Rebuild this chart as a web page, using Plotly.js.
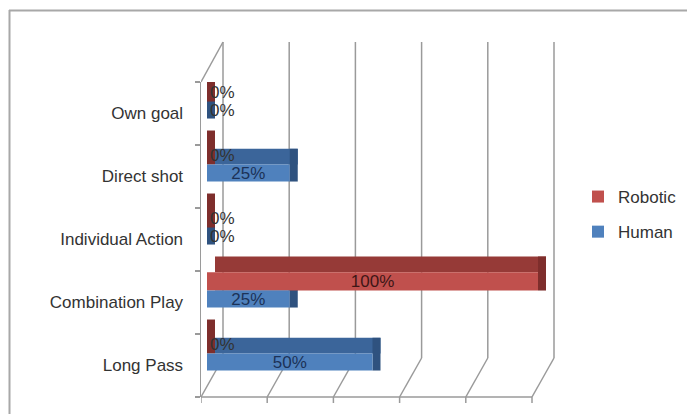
<!DOCTYPE html>
<html><head><meta charset="utf-8">
<script src="https://cdn.plot.ly/plotly-3.0.1.min.js"></script>
<style>html,body{margin:0;padding:0;background:#fff}#chart{width:687px;height:414px}</style>
</head><body><div id="chart"></div>
<script>
// ---- data ----
const categories = ['Long Pass', 'Combination Play', 'Individual Action', 'Direct shot', 'Own goal'];
const human = [0.50, 0.25, 0, 0.25, 0];
const robotic = [0, 1.00, 0, 0, 0];
const seriesNames = ['Human', 'Robotic'];
const gridTicks = [0, 0.2, 0.4, 0.6, 0.8, 1.0];

// ---- geometry (layout only) ----
const W = 687, H = 414, L = 201, R = 562, T = 82, B = 397;
const PXU = 331;                  // pixels per x unit
const XMIN = -(207 - L) / PXU;    // value 0 sits a little right of the wall
const XMAX = (R - 207) / PXU;
const DEPTH = 8 / PXU;            // 3-D depth of bars
const BACK = 16 / PXU, FRONT = -6 / PXU;
const px2x = p => (p - L) / (R - L);
const py2y = p => (B - p) / (B - T);

const pct = v => Math.round(v * 100) + '%';
const FONT = 'Liberation Sans, Arial, sans-serif';
const FS = 17;

function series(vals, name, cFront, cTop, cCap, txtColor, frontOff, frontW, topOff, topW, grp, rank) {
  const common = {type: 'bar', orientation: 'h', y: categories, legendgroup: grp, hoverinfo: 'skip', cliponaxis: false};
  const top = Object.assign({}, common, {
    x: vals, base: DEPTH, offset: topOff, width: topW,
    marker: {color: cTop, line: {width: 0}}, showlegend: false
  });
  const cap = Object.assign({}, common, {
    x: vals.map(() => DEPTH), base: vals, offset: frontOff, width: topOff + topW - frontOff,
    marker: {color: cCap, line: {width: 0}}, showlegend: false
  });
  const front = Object.assign({}, common, {
    name: name, x: vals, base: 0, offset: frontOff, width: frontW,
    marker: {color: cFront, line: {width: 0}}, legendrank: rank,
    text: vals.map(pct),
    textposition: vals.map(v => v > 0 ? 'inside' : 'outside'),
    insidetextanchor: 'middle', constraintext: 'none', textangle: 0,
    textfont: {family: FONT, size: FS, color: vals.map(v => v > 0 ? txtColor : '#333333')}
  });
  return {top, cap, front};
}

const h = series(human, seriesNames[0], '#4F81BD', '#3B659A', '#2F527F', '#1C3257', -0.08, 0.27, 0.19, 0.25, 'h', 2);
const r = series(robotic, seriesNames[1], '#C0504D', '#963A37', '#7E2E2C', '#3E1616', 0.19, 0.29, 0.48, 0.25, 'r', 1);

const traces = [h.top, h.cap, r.top, r.cap, r.front, h.front];

const grey = '#9A9A9A';
const shapes = [];
gridTicks.forEach(t => {
  shapes.push({type: 'line', xref: 'x', yref: 'paper', x0: t + BACK, x1: t + BACK, y0: py2y(42), y1: py2y(358), line: {color: grey, width: 1.5}, layer: 'below'});
  shapes.push({type: 'line', xref: 'x', yref: 'paper', x0: t + BACK, x1: t + FRONT, y0: py2y(358), y1: py2y(B), line: {color: grey, width: 1.5}, layer: 'below'});
  shapes.push({type: 'line', xref: 'x', yref: 'paper', x0: t + FRONT, x1: t + FRONT, y0: py2y(B), y1: py2y(B + 6), line: {color: grey, width: 1.5}});
});
// floor front edge and left wall top edge
shapes.push({type: 'line', xref: 'x', yref: 'paper', x0: gridTicks[0] + FRONT, x1: gridTicks[gridTicks.length - 1] + FRONT, y0: 0, y1: 0, line: {color: grey, width: 1.5}});
shapes.push({type: 'line', xref: 'x', yref: 'paper', x0: gridTicks[0] + FRONT, x1: gridTicks[0] + BACK, y0: 1, y1: py2y(42), line: {color: grey, width: 1.5}, layer: 'below'});
// chart border (top and left)
shapes.push({type: 'line', xref: 'paper', yref: 'paper', x0: px2x(9), x1: px2x(W + 2), y0: py2y(10.5), y1: py2y(10.5), line: {color: '#A8A8A8', width: 2}});
shapes.push({type: 'line', xref: 'paper', yref: 'paper', x0: px2x(9.5), x1: px2x(9.5), y0: py2y(10), y1: py2y(H + 2), line: {color: '#A8A8A8', width: 2}});

const layout = {
  width: W, height: H,
  margin: {l: L, r: W - R, t: T, b: H - B, pad: 0, autoexpand: false},
  paper_bgcolor: '#ffffff', plot_bgcolor: 'rgba(0,0,0,0)',
  barmode: 'overlay',
  font: {family: FONT, size: FS, color: '#333333'},
  xaxis: {range: [XMIN, XMAX], showgrid: false, zeroline: false, showline: false, showticklabels: false, ticks: '', fixedrange: true},
  yaxis: {type: 'category', categoryorder: 'array', categoryarray: categories, range: [-0.5, categories.length - 0.5],
          showgrid: false, zeroline: false, showline: true, linecolor: grey, linewidth: 1.5,
          ticks: 'outside', ticklen: 5, tickcolor: grey, tickwidth: 1.5, tickson: 'boundaries',
          ticklabelstandoff: 13, tickfont: {family: FONT, size: FS, color: '#333333'}, fixedrange: true},
  legend: {x: px2x(578), y: py2y(179), xanchor: 'left', yanchor: 'top', traceorder: 'grouped', tracegroupgap: 10,
           font: {family: FONT, size: FS, color: '#333333'}, bgcolor: 'rgba(0,0,0,0)', itemclick: false},
  shapes: shapes,
  showlegend: true
};

Plotly.newPlot('chart', traces, layout, {displayModeBar: false, staticPlot: true});
</script></body></html>
